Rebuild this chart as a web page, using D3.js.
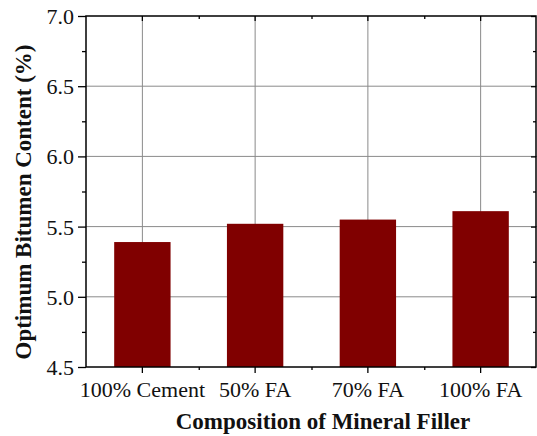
<!DOCTYPE html>
<html><head><meta charset="utf-8">
<script src="https://cdn.jsdelivr.net/npm/d3@7"></script>
</head><body style="margin:0">
<svg id="c" width="537" height="436" style="display:block;font-family:'Liberation Serif',serif"></svg>
<script>
const categories = ["100% Cement", "50% FA", "70% FA", "100% FA"];
const values = [5.39, 5.52, 5.55, 5.61];
const yTicks = [4.5, 5.0, 5.5, 6.0, 6.5, 7.0];
const yMinorTicks = [4.75, 5.25, 5.75, 6.25, 6.75];
const xTitle = "Composition of Mineral Filler";
const yTitle = "Optimum Bitumen Content (%)";

const svg = d3.select("#c");
const L = 86, R = 537, T = 16, B = 367;
const x = d3.scaleBand().domain(categories).range([L, R]).paddingInner(0.5).paddingOuter(0.25);
const y = d3.scaleLinear().domain([4.5, 7.0]).range([B, T]);
const font = "Liberation Serif";

// grid
const g = svg.append("g");
g.selectAll("line.h").data(yTicks.slice(1, -1)).join("line")
  .attr("x1", L).attr("x2", R).attr("y1", d => y(d)).attr("y2", d => y(d))
  .attr("stroke", "#8a8a8a").attr("stroke-width", 1);
g.selectAll("line.v").data(categories).join("line")
  .attr("y1", T).attr("y2", B)
  .attr("x1", d => x(d) + x.bandwidth() / 2).attr("x2", d => x(d) + x.bandwidth() / 2)
  .attr("stroke", "#8a8a8a").attr("stroke-width", 1);

// bars
svg.selectAll("rect.bar").data(values).join("rect")
  .attr("x", (d, i) => x(categories[i]))
  .attr("width", x.bandwidth())
  .attr("y", d => y(d))
  .attr("height", d => y(4.5) - y(d))
  .attr("fill", "#800000");

// axes
const leftAx = svg.append("g").attr("transform", `translate(${L},0)`)
  .call(d3.axisLeft(y).tickValues(yTicks).tickSize(8).tickPadding(4).tickFormat(d3.format(".1f")));
leftAx.append("g").call(d3.axisLeft(y).tickValues(yMinorTicks).tickSize(4).tickFormat(""));
const rightAx = svg.append("g").attr("transform", `translate(${R - 1},0)`)
  .call(d3.axisLeft(y).tickValues(yTicks).tickSize(5).tickFormat(""));
rightAx.append("g").call(d3.axisLeft(y).tickValues(yMinorTicks).tickSize(3).tickFormat(""));

const bottomAx = svg.append("g").attr("transform", `translate(0,${B})`)
  .call(d3.axisBottom(x).tickSize(6).tickPadding(8));
const step = x.step();
const bounds = categories.slice(0, -1).map(c => x(c) + x.bandwidth() / 2 + step / 2);
const xm = d3.scaleLinear().domain([L, R]).range([L, R]);
bottomAx.append("g").call(d3.axisBottom(xm).tickValues(bounds).tickSize(3).tickFormat(""));
const topAx = svg.append("g").attr("transform", `translate(0,${T})`)
  .call(d3.axisBottom(x).tickSize(5).tickFormat(""));
topAx.append("g").call(d3.axisBottom(xm).tickValues(bounds).tickSize(3).tickFormat(""));

svg.selectAll("g").attr("font-family", null);
svg.selectAll(".domain").remove();
svg.selectAll(".tick line").attr("stroke", "#000").attr("stroke-width", 1.3);
svg.selectAll(".tick text").attr("font-family", font).style("font-family", font).attr("fill", "#111");
leftAx.selectAll(".tick text").attr("font-size", 22).attr("dy", "0.34em");
bottomAx.selectAll(".tick text").attr("font-size", 22);

// frame
svg.append("rect").attr("x", L).attr("y", T).attr("width", R - 1 - L).attr("height", B - T)
  .attr("fill", "none").attr("stroke", "#000").attr("stroke-width", 1.5);

// titles
svg.append("text").attr("x", 323).attr("y", 429).attr("text-anchor", "middle")
  .attr("font-family", font).style("font-family", font).attr("font-weight", "bold").attr("font-size", 23).attr("fill", "#111")
  .text(xTitle);
svg.append("text").attr("transform", "translate(31,202) rotate(-90)").attr("text-anchor", "middle")
  .attr("font-family", font).style("font-family", font).attr("font-weight", "bold").attr("font-size", 23).attr("fill", "#111")
  .text(yTitle);
</script>
</body></html>
